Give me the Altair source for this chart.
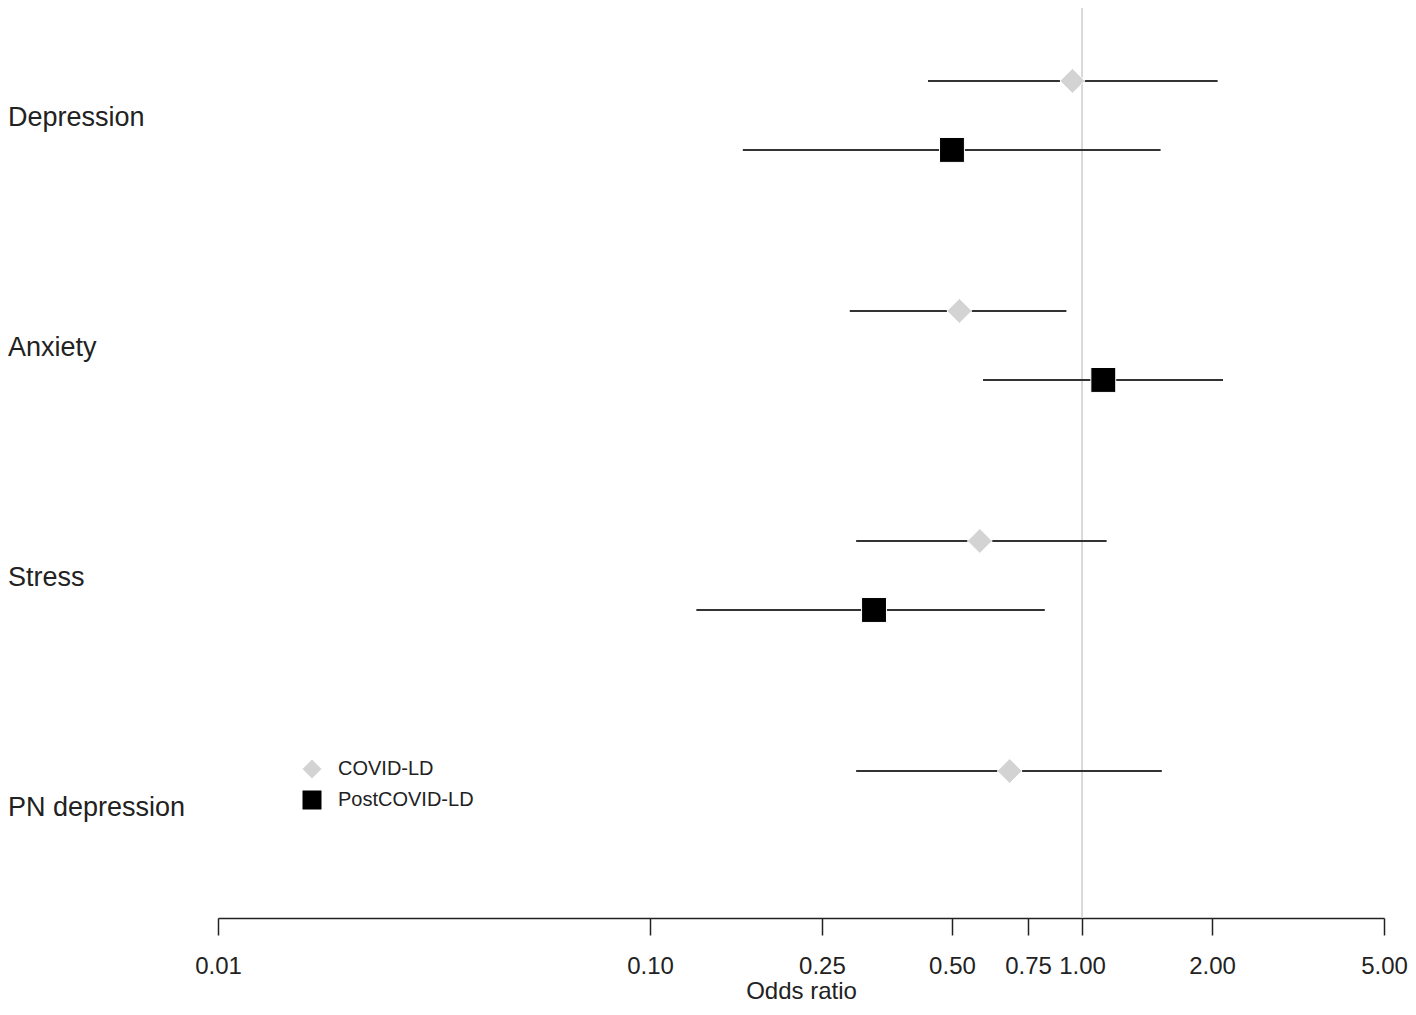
import altair as alt
import pandas as pd

outcomes = ["Depression", "Anxiety", "Stress", "PN depression"]
series = ["COVID-LD", "PostCOVID-LD"]
covid_or = [0.95, 0.52, 0.58, 0.68]
covid_lo = [0.44, 0.29, 0.30, 0.30]
covid_hi = [2.06, 0.92, 1.14, 1.53]
post_or = [0.50, 1.12, 0.33, None]
post_lo = [0.164, 0.59, 0.128, None]
post_hi = [1.52, 2.12, 0.82, None]
ticks = [0.01, 0.10, 0.25, 0.50, 0.75, 1.00, 2.00, 5.00]

SERIES_OFFSET = 0.3
LABEL_OFFSET = 0.16

rows = []
for g, name in enumerate(outcomes):
    vals = [(covid_or[g], covid_lo[g], covid_hi[g]), (post_or[g], post_lo[g], post_hi[g])]
    for s, (o, l, h) in enumerate(vals):
        if o is None:
            continue
        rows.append(dict(outcome=name, series=series[s], OR=o, lo=l, hi=h,
                         row=g + s * SERIES_OFFSET))
df = pd.DataFrame(rows)
labels = pd.DataFrame({"outcome": outcomes,
                       "row": [g + LABEL_OFFSET for g in range(len(outcomes))]})
ref = pd.DataFrame({"x": [1.0]})

FONT = "Liberation Sans"
xscale = alt.Scale(type="log", domain=[0.01, 5], nice=False)
yscale = alt.Scale(domain=[-0.317, 3.639], reverse=True, nice=False, zero=False)

xaxis = alt.Axis(values=ticks, format=".2f", grid=False, title="Odds ratio",
                 domainColor="#222", domainWidth=1.5, tickColor="#222", tickWidth=1.5,
                 tickSize=17, labelFontSize=24, labelFont=FONT, labelColor="#222",
                 labelPadding=19, labelOverlap=False, labelFlush=False,
                 titleFontSize=24, titleFont=FONT, titleFontWeight="normal",
                 titleColor="#222", titlePadding=1)

leg = alt.Legend(title=None, orient="none", legendX=84, legendY=751, symbolSize=361,
                 labelFontSize=20, labelFont=FONT, labelColor="#222", labelOffset=16,
                 rowPadding=11, symbolStrokeWidth=0)

refline = alt.Chart(ref).mark_rule(color="#d9d9d9", strokeWidth=2).encode(
    x=alt.X("x:Q", scale=xscale, axis=xaxis))

ci = alt.Chart(df).mark_rule(color="#333", strokeWidth=2).encode(
    x=alt.X("lo:Q", scale=xscale, axis=xaxis),
    x2="hi:Q",
    y=alt.Y("row:Q", scale=yscale, axis=None))

pts = alt.Chart(df).mark_point(filled=True, opacity=1, stroke="white", strokeWidth=1).encode(
    x=alt.X("OR:Q", scale=xscale, axis=xaxis),
    y=alt.Y("row:Q", scale=yscale, axis=None),
    color=alt.Color("series:N", scale=alt.Scale(domain=series, range=["#d3d3d3", "#000000"]), legend=leg),
    shape=alt.Shape("series:N", scale=alt.Scale(domain=series, range=["diamond", "square"]), legend=leg),
    size=alt.value(620))

txt = alt.Chart(labels).mark_text(align="left", baseline="middle", fontSize=27,
                                  font=FONT, color="#222").encode(
    x=alt.value(-210),
    y=alt.Y("row:Q", scale=yscale, axis=None),
    text="outcome:N")

chart = alt.layer(refline, ci, pts, txt).properties(
    width=1166, height=910,
    padding={"left": 210, "top": 0, "right": 24, "bottom": 84},
    autosize=alt.AutoSizeParams(type="none"),
).configure_view(stroke=None)

chart.save("out.html", embed_options={"renderer": "svg", "actions": False})
